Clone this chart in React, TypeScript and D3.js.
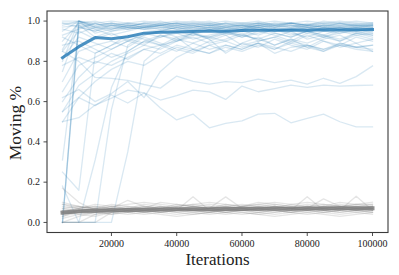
import React from "react";
import * as d3 from "d3";

const iterations = [5000, 10000, 15000, 20000, 25000, 30000, 35000, 40000, 45000, 50000, 55000, 60000, 65000, 70000, 75000, 80000, 85000, 90000, 95000, 100000];

const xTicks = [20000, 40000, 60000, 80000, 100000];
const yTicks = [0.0, 0.2, 0.4, 0.6, 0.8, 1.0];

const blueRuns: number[][] = [
  [1.0, 1.0, 0.99, 1.0, 0.99, 1.0, 0.99, 0.99, 1.0, 0.99, 1.0, 0.99, 0.99, 1.0, 0.99, 1.0, 0.99, 0.99, 1.0, 0.99],
  [0.98, 1.0, 0.98, 0.99, 0.98, 0.99, 0.98, 0.99, 0.98, 0.99, 0.98, 0.98, 0.99, 0.98, 0.99, 0.98, 0.99, 0.98, 0.98, 0.99],
  [0.95, 1.0, 0.97, 0.96, 0.98, 0.97, 0.98, 0.97, 0.98, 0.96, 0.97, 0.98, 0.97, 0.98, 0.97, 0.96, 0.98, 0.97, 0.98, 0.97],
  [0.9, 0.99, 0.96, 0.98, 0.97, 0.99, 0.98, 0.98, 0.97, 0.98, 0.99, 0.97, 0.98, 0.99, 0.98, 0.97, 0.98, 0.99, 0.98, 0.98],
  [0.99, 0.97, 0.95, 0.97, 0.96, 0.97, 0.96, 0.98, 0.96, 0.97, 0.96, 0.97, 0.96, 0.97, 0.98, 0.97, 0.96, 0.97, 0.96, 0.97],
  [0.86, 1.0, 0.94, 0.96, 0.97, 0.96, 0.97, 0.96, 0.97, 0.98, 0.96, 0.97, 0.98, 0.96, 0.97, 0.98, 0.97, 0.96, 0.97, 0.96],
  [0.97, 0.98, 0.96, 0.93, 0.95, 0.97, 0.96, 0.95, 0.96, 0.97, 0.95, 0.96, 0.97, 0.95, 0.96, 0.95, 0.96, 0.97, 0.95, 0.96],
  [0.93, 0.96, 0.99, 0.97, 0.99, 0.98, 0.99, 1.0, 0.99, 0.98, 0.99, 0.99, 0.98, 0.99, 0.99, 0.98, 0.99, 1.0, 0.99, 0.99],
  [0.8, 1.0, 0.97, 0.95, 0.96, 0.98, 0.97, 0.96, 0.95, 0.97, 0.96, 0.95, 0.97, 0.96, 0.95, 0.97, 0.96, 0.97, 0.96, 0.95],
  [0.75, 0.98, 0.92, 0.95, 0.97, 0.96, 0.95, 0.97, 0.96, 0.95, 0.97, 0.98, 0.96, 0.95, 0.96, 0.97, 0.95, 0.96, 0.97, 0.96],
  [0.99, 0.99, 1.0, 0.98, 0.97, 0.99, 1.0, 0.98, 0.99, 1.0, 0.98, 0.99, 1.0, 0.98, 0.99, 0.98, 1.0, 0.99, 0.98, 0.98],
  [0.0, 1.0, 0.98, 0.99, 0.98, 0.97, 0.98, 0.99, 0.98, 0.97, 0.99, 0.98, 0.97, 0.98, 0.99, 0.97, 0.98, 0.98, 0.97, 0.98],
  [0.0, 0.99, 0.97, 0.98, 0.99, 0.98, 0.97, 0.98, 0.99, 0.98, 0.97, 0.98, 0.99, 0.98, 0.97, 0.99, 0.98, 0.97, 0.98, 0.97],
  [0.0, 0.97, 0.99, 0.96, 0.98, 0.97, 0.99, 0.97, 0.98, 0.99, 0.97, 0.96, 0.98, 0.97, 0.99, 0.98, 0.97, 0.98, 0.99, 0.98],
  [0.31, 0.97, 0.95, 0.98, 0.96, 0.97, 0.98, 0.96, 0.97, 0.98, 0.97, 0.96, 0.98, 0.97, 0.96, 0.98, 0.97, 0.96, 0.97, 0.98],
  [0.96, 0.94, 0.97, 0.99, 0.97, 0.96, 0.98, 0.99, 0.97, 0.96, 0.98, 0.97, 0.99, 0.97, 0.98, 0.96, 0.97, 0.99, 0.97, 0.97],
  [0.88, 0.9, 0.86, 0.82, 0.85, 0.9, 0.88, 0.92, 0.86, 0.9, 0.93, 0.88, 0.9, 0.92, 0.89, 0.93, 0.9, 0.88, 0.92, 0.9],
  [0.7, 0.85, 0.88, 0.9, 0.87, 0.92, 0.89, 0.86, 0.84, 0.88, 0.85, 0.89, 0.87, 0.91, 0.88, 0.86, 0.9, 0.87, 0.89, 0.85],
  [0.65, 0.78, 0.82, 0.86, 0.9, 0.88, 0.93, 0.9, 0.92, 0.89, 0.91, 0.94, 0.9, 0.92, 0.95, 0.91, 0.93, 0.9, 0.94, 0.92],
  [0.92, 0.88, 0.84, 0.88, 0.93, 0.91, 0.88, 0.9, 0.94, 0.91, 0.84, 0.89, 0.92, 0.88, 0.91, 0.87, 0.91, 0.93, 0.89, 0.91],
  [0.6, 0.72, 0.8, 0.78, 0.82, 0.86, 0.88, 0.85, 0.89, 0.86, 0.88, 0.86, 0.89, 0.84, 0.87, 0.88, 0.86, 0.88, 0.87, 0.86],
  [0.85, 0.95, 0.91, 0.94, 0.9, 0.93, 0.95, 0.92, 0.94, 0.91, 0.94, 0.92, 0.95, 0.93, 0.9, 0.94, 0.92, 0.95, 0.93, 0.94],
  [0.55, 0.68, 0.74, 0.8, 0.84, 0.88, 0.86, 0.9, 0.93, 0.92, 0.94, 0.93, 0.91, 0.94, 0.92, 0.95, 0.93, 0.91, 0.94, 0.93],
  [0.82, 0.92, 0.89, 0.86, 0.9, 0.94, 0.92, 0.95, 0.93, 0.96, 0.93, 0.95, 0.93, 0.96, 0.94, 0.92, 0.95, 0.94, 0.96, 0.94],
  [0.25, 0.16, 0.84, 0.88, 0.91, 0.89, 0.92, 0.94, 0.91, 0.93, 0.95, 0.92, 0.94, 0.96, 0.93, 0.95, 0.92, 0.94, 0.95, 0.93],
  [0.0, 0.0, 0.31, 0.67, 0.85, 0.9, 0.93, 0.91, 0.94, 0.92, 0.95, 0.93, 0.96, 0.94, 0.92, 0.95, 0.93, 0.96, 0.94, 0.95],
  [0.0, 0.0, 0.0, 0.0, 0.35, 0.8, 0.87, 0.91, 0.89, 0.92, 0.9, 0.93, 0.91, 0.88, 0.91, 0.89, 0.92, 0.9, 0.93, 0.91],
  [0.5, 0.62, 0.7, 0.76, 0.8, 0.78, 0.83, 0.87, 0.85, 0.88, 0.9, 0.87, 0.89, 0.86, 0.9, 0.88, 0.85, 0.89, 0.87, 0.88],
  [0.78, 0.82, 0.79, 0.84, 0.81, 0.86, 0.84, 0.88, 0.86, 0.84, 0.87, 0.85, 0.88, 0.86, 0.89, 0.87, 0.85, 0.88, 0.86, 0.85],
  [0.18, 0.0, 0.0, 0.56, 0.88, 0.93, 0.95, 0.97, 0.95, 0.96, 0.94, 0.96, 0.97, 0.95, 0.96, 0.94, 0.97, 0.96, 0.95, 0.96],
  [0.62, 0.66, 0.6, 0.64, 0.7, 0.62, 0.75, 0.82, 0.86, 0.84, 0.88, 0.86, 0.89, 0.87, 0.85, 0.88, 0.86, 0.89, 0.87, 0.88],
  [0.55, 0.62, 0.58, 0.633, 0.593, 0.643, 0.568, 0.509, 0.538, 0.47, 0.492, 0.504, 0.538, 0.542, 0.495, 0.517, 0.538, 0.5, 0.475, 0.475],
  [0.85, 0.8, 0.72, 0.715, 0.705, 0.685, 0.667, 0.727, 0.7, 0.687, 0.699, 0.694, 0.712, 0.694, 0.707, 0.687, 0.716, 0.691, 0.724, 0.777],
  [0.5, 0.52, 0.583, 0.617, 0.657, 0.643, 0.608, 0.63, 0.657, 0.648, 0.611, 0.677, 0.649, 0.665, 0.682, 0.671, 0.682, 0.677, 0.68, 0.682],
];

const greyRuns: number[][] = [
  [0.05, 0.06, 0.07, 0.06, 0.07, 0.06, 0.07, 0.08, 0.07, 0.06, 0.07, 0.08, 0.07, 0.06, 0.07, 0.08, 0.07, 0.06, 0.07, 0.07],
  [0.0, 0.0, 0.04, 0.05, 0.06, 0.05, 0.06, 0.07, 0.06, 0.05, 0.06, 0.07, 0.06, 0.07, 0.06, 0.05, 0.06, 0.07, 0.06, 0.06],
  [0.09, 0.07, 0.08, 0.07, 0.11, 0.08, 0.07, 0.08, 0.09, 0.08, 0.07, 0.08, 0.09, 0.08, 0.07, 0.08, 0.09, 0.08, 0.07, 0.08],
  [0.03, 0.05, 0.04, 0.06, 0.05, 0.06, 0.05, 0.06, 0.127, 0.06, 0.05, 0.06, 0.07, 0.06, 0.05, 0.06, 0.07, 0.06, 0.05, 0.06],
  [0.17, 0.1, 0.06, 0.07, 0.06, 0.07, 0.08, 0.07, 0.06, 0.07, 0.127, 0.07, 0.06, 0.07, 0.08, 0.07, 0.06, 0.07, 0.08, 0.07],
  [0.04, 0.06, 0.05, 0.04, 0.06, 0.05, 0.06, 0.05, 0.04, 0.05, 0.06, 0.05, 0.04, 0.05, 0.06, 0.128, 0.06, 0.05, 0.06, 0.05],
  [0.06, 0.05, 0.07, 0.08, 0.07, 0.09, 0.08, 0.07, 0.08, 0.09, 0.08, 0.07, 0.08, 0.09, 0.08, 0.07, 0.117, 0.08, 0.09, 0.08],
  [0.02, 0.04, 0.05, 0.06, 0.05, 0.04, 0.05, 0.06, 0.05, 0.06, 0.05, 0.06, 0.05, 0.04, 0.05, 0.06, 0.05, 0.06, 0.13, 0.06],
  [0.07, 0.08, 0.06, 0.07, 0.08, 0.07, 0.06, 0.07, 0.08, 0.07, 0.08, 0.07, 0.06, 0.08, 0.07, 0.08, 0.07, 0.08, 0.07, 0.08],
  [0.0, 0.03, 0.05, 0.06, 0.07, 0.06, 0.07, 0.06, 0.07, 0.08, 0.07, 0.06, 0.07, 0.08, 0.07, 0.06, 0.07, 0.08, 0.07, 0.07],
  [0.05, 0.04, 0.03, 0.05, 0.04, 0.05, 0.04, 0.03, 0.04, 0.05, 0.04, 0.05, 0.04, 0.03, 0.04, 0.05, 0.04, 0.03, 0.04, 0.05],
  [0.08, 0.07, 0.09, 0.08, 0.09, 0.1, 0.09, 0.08, 0.09, 0.1, 0.09, 0.08, 0.09, 0.1, 0.09, 0.1, 0.09, 0.08, 0.09, 0.09],
  [0.04, 0.05, 0.06, 0.05, 0.06, 0.07, 0.06, 0.05, 0.06, 0.07, 0.06, 0.07, 0.06, 0.05, 0.06, 0.07, 0.06, 0.07, 0.06, 0.07],
  [0.06, 0.07, 0.06, 0.08, 0.07, 0.06, 0.07, 0.06, 0.08, 0.07, 0.06, 0.07, 0.08, 0.07, 0.06, 0.07, 0.08, 0.07, 0.06, 0.08],
  [0.1, 0.08, 0.07, 0.06, 0.07, 0.08, 0.07, 0.06, 0.07, 0.06, 0.07, 0.06, 0.07, 0.08, 0.07, 0.06, 0.07, 0.06, 0.07, 0.06],
  [0.03, 0.06, 0.05, 0.07, 0.06, 0.05, 0.06, 0.07, 0.06, 0.05, 0.07, 0.06, 0.05, 0.06, 0.05, 0.07, 0.06, 0.05, 0.06, 0.05],
  [0.05, 0.07, 0.08, 0.07, 0.06, 0.08, 0.07, 0.09, 0.08, 0.07, 0.08, 0.09, 0.08, 0.07, 0.09, 0.08, 0.07, 0.09, 0.08, 0.09],
  [0.0, 0.0, 0.0, 0.05, 0.06, 0.07, 0.06, 0.07, 0.06, 0.07, 0.08, 0.07, 0.06, 0.07, 0.06, 0.07, 0.08, 0.07, 0.06, 0.07],
  [0.07, 0.06, 0.05, 0.06, 0.07, 0.06, 0.08, 0.07, 0.06, 0.07, 0.06, 0.08, 0.07, 0.08, 0.07, 0.06, 0.08, 0.07, 0.08, 0.07],
  [0.04, 0.06, 0.07, 0.06, 0.05, 0.06, 0.05, 0.06, 0.07, 0.06, 0.05, 0.06, 0.07, 0.06, 0.07, 0.06, 0.05, 0.06, 0.07, 0.06],
  [0.09, 0.08, 0.07, 0.09, 0.08, 0.07, 0.1, 0.09, 0.08, 0.07, 0.09, 0.08, 0.1, 0.09, 0.08, 0.09, 0.08, 0.1, 0.09, 0.1],
  [0.05, 0.05, 0.06, 0.04, 0.05, 0.06, 0.05, 0.04, 0.05, 0.04, 0.05, 0.04, 0.05, 0.06, 0.05, 0.04, 0.05, 0.04, 0.05, 0.04],
];

const blueMean = [0.818, 0.873, 0.918, 0.912, 0.922, 0.94, 0.944, 0.946, 0.948, 0.951, 0.95, 0.953, 0.955, 0.954, 0.956, 0.955, 0.957, 0.956, 0.957, 0.958];
const greyMean = [0.049, 0.055, 0.058, 0.061, 0.062, 0.063, 0.064, 0.065, 0.066, 0.066, 0.067, 0.067, 0.068, 0.068, 0.068, 0.069, 0.069, 0.07, 0.07, 0.07];

const W = 399;
const H = 275;
const left = 47;
const right = 388;
const top = 11;
const bottom = 232.5;

export default function App() {
  const x = d3.scaleLinear().domain([250, 104750]).range([left, right]);
  const y = d3.scaleLinear().domain([-0.05, 1.05]).range([bottom, top]);
  const line = d3
    .line<number>()
    .x((_, i) => x(iterations[i]))
    .y((v) => y(v));
  const font = "'Liberation Serif', 'DejaVu Serif', serif";
  const axisColor = "#3a3a3a";
  return (
    <svg width={W} height={H} style={{ position: "absolute", left: 0, top: 0, background: "#fff" }}>
      <rect x={0} y={0} width={W} height={H} fill="#fff" />
      <g fill="none" strokeLinejoin="round" strokeLinecap="square">
        {blueRuns.map((r, i) => (
          <path key={"b" + i} d={line(r) || ""} stroke="#1f77b4" strokeOpacity={0.17} strokeWidth={1.3} />
        ))}
        <path d={line(blueMean) || ""} stroke="#1f77b4" strokeOpacity={0.8} strokeWidth={3} />
        {greyRuns.map((r, i) => (
          <path key={"g" + i} d={line(r) || ""} stroke="#7f7f7f" strokeOpacity={0.2} strokeWidth={1.3} />
        ))}
        <path d={line(greyMean) || ""} stroke="#7f7f7f" strokeOpacity={0.85} strokeWidth={4} />
      </g>
      <rect x={left} y={top} width={right - left} height={bottom - top} fill="none" stroke={axisColor} strokeWidth={1.1} />
      {xTicks.map((t) => (
        <g key={"xt" + t}>
          <line x1={x(t)} x2={x(t)} y1={bottom} y2={bottom + 3.5} stroke={axisColor} strokeWidth={0.9} />
          <text x={x(t)} y={247} textAnchor="middle" fontFamily={font} fontSize={10} fill="#222">
            {t}
          </text>
        </g>
      ))}
      {yTicks.map((t) => (
        <g key={"yt" + t}>
          <line x1={left - 3.5} x2={left} y1={y(t)} y2={y(t)} stroke={axisColor} strokeWidth={0.9} />
          <text x={40} y={y(t) + 3.3} textAnchor="end" fontFamily={font} fontSize={10} fill="#222">
            {t.toFixed(1)}
          </text>
        </g>
      ))}
      <text x={(left + right) / 2} y={265} textAnchor="middle" fontFamily={font} fontSize={17} fill="#222">
        Iterations
      </text>
      <text
        transform={`translate(21,123) rotate(-90)`}
        textAnchor="middle"
        fontFamily={font}
        fontSize={17.5}
        fill="#222"
      >
        Moving %
      </text>
    </svg>
  );
}
